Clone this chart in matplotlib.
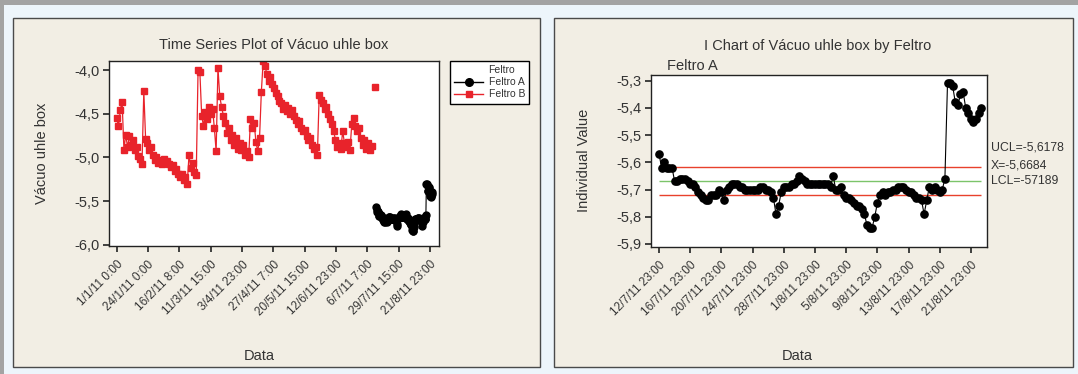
import numpy as np
import matplotlib.pyplot as plt
from matplotlib.patches import Rectangle
from matplotlib.lines import Line2D

plt.rcParams['font.family'] = ['Liberation Sans', 'DejaVu Sans']

nan = float('nan')

feltro_b = [
    -4.55, -4.64, -4.46, -4.36, -4.91, -4.74, -4.88, -4.76, -4.86, -4.80,
    -4.92, -4.88, -4.98, -5.02, -5.08, -4.24, -4.79, -4.84, -4.92, -4.88,
    -4.97, -5.03, -5.00, -5.06, -5.03, -5.07, -5.02, -5.06, -5.04, -5.08,
    -5.11, -5.09, -5.15, -5.13, -5.19, -5.22, -5.19, -5.26, -5.22, -5.31,
    -4.97, -5.12, -5.06, -5.17, -5.20, -4.00, -4.02, -4.52, -4.64, -4.48,
    -4.56, -4.42, -4.50, -4.44, -4.66, -4.93, -3.97, -4.30, -4.42, -4.52,
    -4.60, -4.72, -4.66, -4.80, -4.74, -4.86, -4.78, -4.90, -4.84, -4.92,
    -4.86, -4.97, -4.93, -5.00, -4.56, -4.66, -4.60, -4.82, -4.93, -4.78,
    -4.25, -3.90, -3.95, -4.04, -4.12, -4.08, -4.16, -4.20, -4.26, -4.30,
    -4.35, -4.38, -4.44, -4.40, -4.47, -4.43, -4.50, -4.46, -4.52, -4.57,
    -4.62, -4.58, -4.66, -4.70, -4.68, -4.76, -4.80, -4.78, -4.86, -4.90,
    -4.88, -4.97, -4.28, -4.34, -4.38, -4.44, -4.42, -4.50, -4.56, -4.62,
    -4.70, -4.80, -4.88, -4.84, -4.90, -4.70, -4.84, -4.88, -4.82, -4.92,
    -4.62, -4.55, -4.64, -4.70, -4.66, -4.78, -4.86, -4.80, -4.90, -4.84,
    -4.92, -4.87, nan, -4.19,
]

# Feltro A, every observation from 12/7/11 23:00
feltro_a = [
    -5.57, -5.62, -5.60, -5.62, -5.62, -5.62, -5.67, -5.67, -5.66, -5.66,
    -5.66, -5.67, -5.68, -5.68, -5.69, -5.71, -5.72, -5.73, -5.74, -5.74,
    -5.72, -5.72, -5.72, -5.70, -5.71, -5.74, -5.70, -5.69, -5.68, -5.68,
    -5.68, -5.69, -5.69, -5.70, -5.70, -5.70, -5.70, -5.70, -5.70, -5.69,
    -5.69, -5.70, -5.70, -5.71, -5.73, -5.79, -5.76, -5.71, -5.69, -5.69,
    -5.69, -5.68, -5.68, -5.67, -5.65, -5.66, -5.67, -5.68, -5.68, -5.68,
    -5.68, -5.68, -5.68, -5.68, -5.68, -5.68, -5.69, -5.65, -5.70, -5.70,
    -5.69, -5.72, -5.73, -5.73, -5.74, -5.75, -5.76, -5.76, -5.77, -5.79,
    -5.83, -5.84, -5.84, -5.80, -5.75, -5.72, -5.71, -5.72, -5.71, -5.71,
    -5.70, -5.70, -5.69, -5.69, -5.69, -5.70, -5.71, -5.71, -5.72, -5.73,
    -5.73, -5.74, -5.79, -5.74, -5.69, -5.70, -5.69, -5.70, -5.71, -5.70,
    -5.66, -5.31, -5.31, -5.32, -5.38, -5.39, -5.35, -5.34, -5.40, -5.42,
    -5.44, -5.45, -5.44, -5.42, -5.40,
]

left_labels = ['1/1/11 0:00', '24/1/11 0:00', '16/2/11 8:00', '11/3/11 15:00',
               '3/4/11 23:00', '27/4/11 7:00', '20/5/11 15:00', '12/6/11 23:00',
               '6/7/11 7:00', '29/7/11 15:00', '21/8/11 23:00']
right_labels = ['12/7/11 23:00', '16/7/11 23:00', '20/7/11 23:00', '24/7/11 23:00',
                '28/7/11 23:00', '1/8/11 23:00', '5/8/11 23:00', '9/8/11 23:00',
                '13/8/11 23:00', '17/8/11 23:00', '21/8/11 23:00']
left_yticks = [-4.0, -4.5, -5.0, -5.5, -6.0]
right_yticks = [-5.3, -5.4, -5.5, -5.6, -5.7, -5.8, -5.9]

ucl = -5.6178
center = -5.6684
lcl = -5.7189

W, H = 1078, 374
TXT = '#333333'
RED = '#e8232b'


def fx(px):
    return px / W


def fy(py):
    return 1 - py / H


def comma(v):
    return f'{v:.1f}'.replace('.', ',')


fig = plt.figure(figsize=(W / 100, H / 100), dpi=100, facecolor='#edf5fb')

# frame strips and the two panels
fig.add_artist(Rectangle((0, fy(5)), 1, 5 / H, transform=fig.transFigure,
                         facecolor='#a3a3a3', edgecolor='none', zorder=0))
fig.add_artist(Rectangle((0, 0), 4 / W, 1, transform=fig.transFigure,
                         facecolor='#a3a3a3', edgecolor='none', zorder=0))
for x0, x1 in [(13, 540), (554, 1073)]:
    fig.add_artist(Rectangle((fx(x0), fy(367)), (x1 - x0) / W, (367 - 18) / H,
                             transform=fig.transFigure, facecolor='#f2eee4',
                             edgecolor='#4a4a4a', lw=1, zorder=0))

# left: time series plot
ax1 = fig.add_axes([fx(109), fy(246), 330 / W, 185 / H])
xb = np.arange(len(feltro_b)) * 4
xa = 574 + np.arange(len(feltro_a))
ax1.plot(xa, feltro_a, '-o', color='black', ms=5, lw=0.8)
ax1.plot(xb, feltro_b, '-s', color=RED, mec=RED, ms=4.6, lw=0.9)
ax1.set_xlim(-17, 713)
ax1.set_ylim(-6.015, -3.895)
ax1.set_xticks(np.arange(11) * 69.3)
ax1.set_xticklabels(left_labels)
ax1.set_yticks(left_yticks)
ax1.set_yticklabels([comma(v) for v in left_yticks])

# right: I chart of Feltro A
ax2 = fig.add_axes([fx(651), fy(246.7), 336 / W, 171.7 / H])
xr = np.arange(len(feltro_a))
ax2.hlines([ucl, lcl], xr[0], xr[-1], color='#e8412c', lw=1, zorder=1)
ax2.hlines(center, xr[0], xr[-1], color='#7cc46a', lw=1, zorder=1)
ax2.plot(xr, feltro_a, '-o', color='black', ms=5.2, lw=0.8, zorder=2)
ax2.set_xlim(-3.1, 126.2)
ax2.set_ylim(-5.910, -5.279)
ax2.set_xticks(np.arange(11) * 12)
ax2.set_xticklabels(right_labels)
ax2.set_yticks(right_yticks)
ax2.set_yticklabels([comma(v) for v in right_yticks])

for ax in (ax1, ax2):
    ax.set_facecolor('white')
    for s in ax.spines.values():
        s.set_color('#222222')
        s.set_linewidth(1.0)
    ax.tick_params(direction='out', length=4, width=1.2, color='#222222',
                   labelcolor=TXT)
    ax.tick_params(axis='y', labelsize=10.5, pad=3)
    ax.tick_params(axis='x', labelsize=8.5, pad=5)
    for lab in ax.get_xticklabels():
        lab.set_rotation(45)
        lab.set_ha('right')
        lab.set_va('top')
        lab.set_rotation_mode('anchor')

# legend of the left chart
handles = [Line2D([], [], ls='none'),
           Line2D([], [], color='black', marker='o', ms=5.5, lw=1),
           Line2D([], [], color=RED, marker='s', mec=RED, ms=4.5, lw=1)]
leg = fig.legend(handles, ['Feltro', 'Feltro A', 'Feltro B'],
                 loc='upper left', bbox_to_anchor=(fx(450), fy(61)),
                 borderaxespad=0, fontsize=7.5, handlelength=2.8,
                 handletextpad=0.5, labelspacing=0.2, borderpad=0.4,
                 fancybox=False, framealpha=1, edgecolor='black')
leg.get_frame().set_linewidth(1)
for t in leg.get_texts():
    t.set_color(TXT)

# titles and axis labels
fig.text(fx(274), fy(45), 'Time Series Plot of Vácuo uhle box',
         ha='center', va='center', fontsize=10.5, color=TXT)
fig.text(fx(818), fy(46), 'I Chart of Vácuo uhle box by Feltro',
         ha='center', va='center', fontsize=10.5, color=TXT)
fig.text(fx(667), fy(66), 'Feltro A', ha='left', va='center',
         fontsize=10.5, color=TXT)
fig.text(fx(42), fy(153), 'Vácuo uhle box', rotation=90,
         ha='center', va='center', fontsize=10.5, color=TXT)
fig.text(fx(584), fy(160), 'Individual Value', rotation=90,
         ha='center', va='center', fontsize=10.5, color=TXT)
fig.text(fx(259), fy(356), 'Data', ha='center', va='center',
         fontsize=10.5, color=TXT)
fig.text(fx(797), fy(356), 'Data', ha='center', va='center',
         fontsize=10.5, color=TXT)

# control limit labels
fig.text(fx(991), fy(148), 'UCL=-5,6178', ha='left', va='center',
         fontsize=8.8, color=TXT)
fig.text(fx(991), fy(165), 'X=-5,6684', ha='left', va='center',
         fontsize=8.8, color=TXT)
fig.text(fx(991), fy(181), 'LCL=-57189', ha='left', va='center',
         fontsize=8.8, color=TXT)

fig.savefig('out.png', dpi=100, facecolor=fig.get_facecolor())
